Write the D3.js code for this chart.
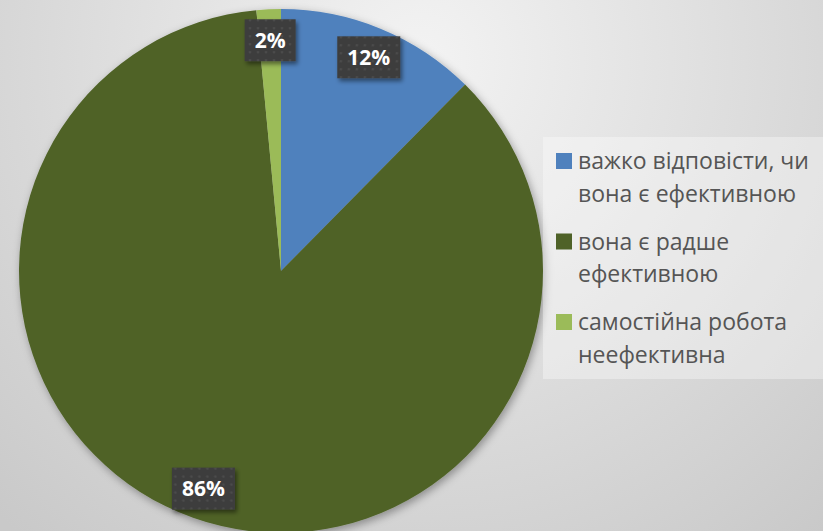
<!DOCTYPE html>
<html lang="uk">
<head>
<meta charset="utf-8">
<title>Pie</title>
<script src="https://d3js.org/d3.v7.min.js"></script>
<style>
  html, body { margin: 0; padding: 0; }
  svg { display: block; }
</style>
</head>
<body>
<div id="chart"></div>
<script>
// chart data
var categories = ["важко відповісти, чи вона є ефективною", "вона є радше ефективною", "самостійна робота неефективна"];
var legendLines = [["важко відповісти, чи", "вона є ефективною"], ["вона є радше", "ефективною"], ["самостійна робота", "неефективна"]];
var values = [12.4, 86.1, 1.5];
var colors = ["#4F81BD", "#4F6228", "#9BBB59"];

var width = 823, height = 531;
var cx = 281, cy = 271, radius = 262, labelRadius = 231;

var svg = d3.select("#chart").append("svg")
    .attr("width", width)
    .attr("height", height);

var defs = svg.append("defs");

// background gradient
var bg = defs.append("radialGradient")
    .attr("id", "bg")
    .attr("gradientUnits", "userSpaceOnUse")
    .attr("cx", 420).attr("cy", 60).attr("r", 620);
bg.append("stop").attr("offset", "0%").attr("stop-color", "#f3f3f3");
bg.append("stop").attr("offset", "100%").attr("stop-color", "#c9c9c9");

var shadow = defs.append("filter").attr("id", "shadow")
    .attr("x", "-20%").attr("y", "-20%").attr("width", "140%").attr("height", "140%");
shadow.append("feDropShadow")
    .attr("dx", 2).attr("dy", 3).attr("stdDeviation", 4)
    .attr("flood-color", "#000").attr("flood-opacity", 0.35);

var boxShadow = defs.append("filter").attr("id", "boxShadow")
    .attr("x", "-30%").attr("y", "-30%").attr("width", "160%").attr("height", "160%");
boxShadow.append("feDropShadow")
    .attr("dx", 2).attr("dy", 3).attr("stdDeviation", 2)
    .attr("flood-color", "#000").attr("flood-opacity", 0.45);

// dotted texture of the label boxes
var dots = defs.append("pattern").attr("id", "dots")
    .attr("patternUnits", "userSpaceOnUse")
    .attr("width", 8).attr("height", 8);
dots.append("rect").attr("width", 8).attr("height", 8).attr("fill", "#3d3d3d");
dots.append("circle").attr("cx", 4).attr("cy", 4).attr("r", 1.3).attr("fill", "#4c4c4c");

svg.append("rect")
    .attr("width", width).attr("height", height)
    .attr("fill", "url(#bg)");

var pie = d3.pie().sort(null).value(function(d) { return d; });
var arc = d3.arc().innerRadius(0).outerRadius(radius);
var labelArc = d3.arc().innerRadius(labelRadius).outerRadius(labelRadius);

var arcs = pie(values);

var g = svg.append("g").attr("transform", "translate(" + cx + "," + cy + ")");

g.append("g").attr("filter", "url(#shadow)")
  .selectAll("path")
  .data(arcs)
  .enter().append("path")
    .attr("d", arc)
    .attr("fill", function(d, i) { return colors[i]; });

// data labels
var labels = g.selectAll(".label")
    .data(arcs)
    .enter().append("g")
    .attr("class", "label")
    .attr("transform", function(d) { return "translate(" + labelArc.centroid(d) + ")"; });

labels.append("rect").attr("class", "box")
    .attr("fill", "url(#dots)")
    .attr("filter", "url(#boxShadow)");

labels.append("text")
    .attr("text-anchor", "middle")
    .attr("dy", "0.36em")
    .style("font-family", "'Open Sans', sans-serif")
    .style("font-weight", "bold")
    .style("font-size", "21px")
    .style("fill", "#ffffff")
    .text(function(d) { return Math.round(d.value) + "%"; });

labels.each(function() {
    var t = d3.select(this).select("text").node().getBBox();
    d3.select(this).select("rect")
        .attr("x", t.x - 10).attr("y", -21)
        .attr("width", t.width + 20).attr("height", 42);
});

// legend
var legend = svg.append("g").attr("transform", "translate(543,137)");
legend.append("rect")
    .attr("width", 280).attr("height", 242)
    .attr("fill", "#ffffff").attr("fill-opacity", 0.35);

var items = legend.selectAll(".item")
    .data(categories)
    .enter().append("g")
    .attr("class", "item")
    .attr("transform", function(d, i) { return "translate(0," + (i * 80.5) + ")"; });

items.append("rect")
    .attr("x", 13).attr("y", 16)
    .attr("width", 16).attr("height", 16)
    .attr("fill", function(d, i) { return colors[i]; });

items.append("text")
    .style("font-family", "'Open Sans', sans-serif")
    .style("font-size", "23px")
    .style("fill", "#555555")
    .selectAll("tspan")
    .data(function(d, i) { return legendLines[i]; })
    .enter().append("tspan")
    .attr("x", 35)
    .attr("y", function(d, j) { return 32 + j * 32.5; })
    .text(function(d) { return d; });
</script>
</body>
</html>
